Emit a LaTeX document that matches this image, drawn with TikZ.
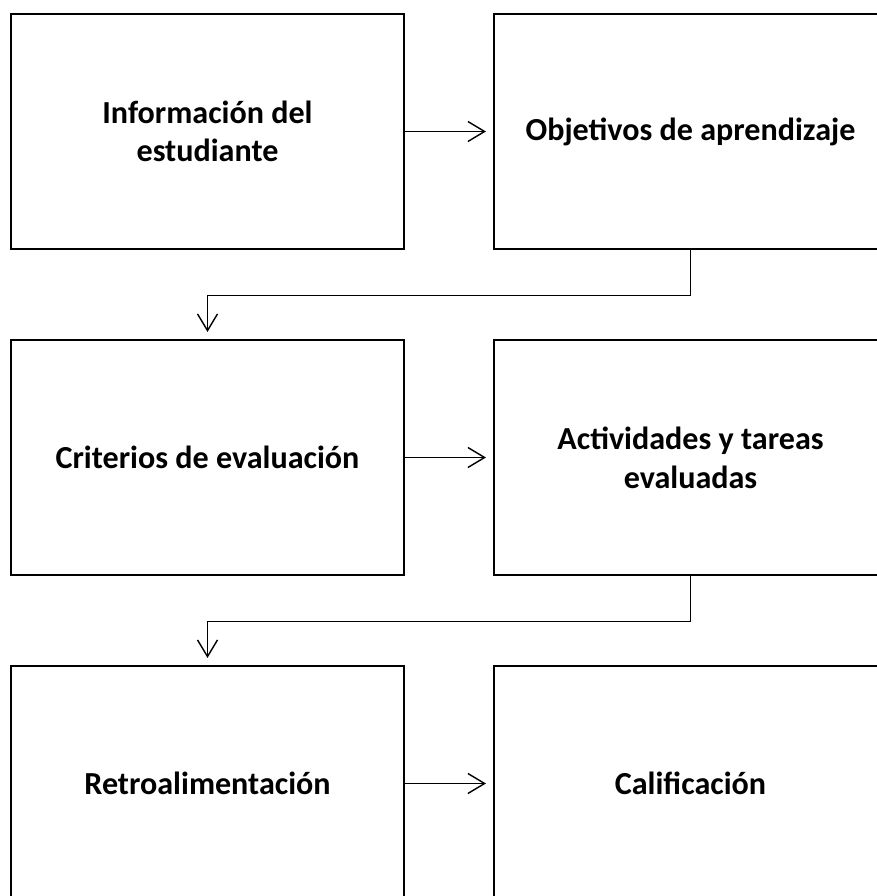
\documentclass[tikz,border=0pt]{standalone}
\usepackage{fontspec}
\setmainfont{Carlito}
\usetikzlibrary{arrows.meta}
\begin{document}
\begin{tikzpicture}[
  caja/.style={draw,line width=2.4pt,minimum width=11.79cm,minimum height=7.05cm,
    align=center,font=\fontsize{27.4}{33}\selectfont\bfseries},
  flecha/.style={line width=1.2pt,-{Straight Barb[length=0.5cm,width=0.6cm]},shorten >=0.2cm}
]
\useasboundingbox (0,0) rectangle (26.31,-26.88);
\clip (0,0) rectangle (26.31,-26.88);

\node[caja] (info) at (6.225,-3.945) {Información del\\estudiante};
\node[caja] (obj) at (20.715,-3.945) {Objetivos de aprendizaje};
\node[caja] (crit) at (6.225,-13.725) {Criterios de evaluación};
\node[caja] (activ) at (20.715,-13.725) {Actividades y tareas\\evaluadas};
\node[caja] (retro) at (6.225,-23.505) {Retroalimentación};
\node[caja] (calif) at (20.715,-23.505) {Calificación};

\draw[flecha] (info) -- (obj);
\draw[flecha] (crit) -- (activ);
\draw[flecha] (retro) -- (calif);

\draw[flecha] (obj.south) -- ++(0,-1.35) -| (crit.north);
\draw[flecha] (activ.south) -- ++(0,-1.35) -| (retro.north);
\end{tikzpicture}
\end{document}
